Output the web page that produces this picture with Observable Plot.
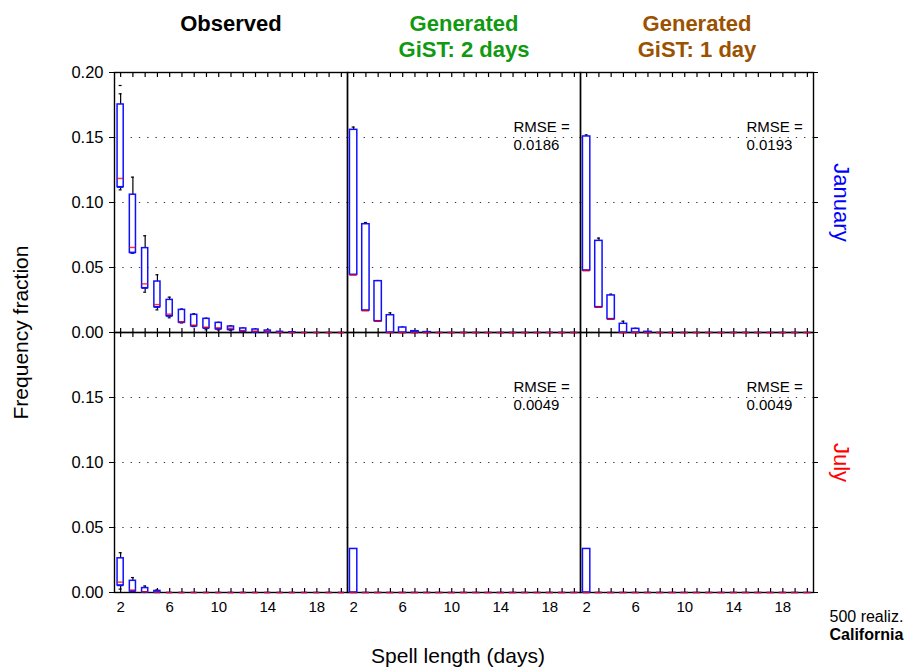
<!DOCTYPE html>
<html>
<head>
<meta charset="utf-8">
<script src="https://cdn.jsdelivr.net/npm/d3@7"></script>
<script src="https://cdn.jsdelivr.net/npm/@observablehq/plot@0.6"></script>
<style>
  body { margin: 0; background: #fff; }
  #chart svg { display: block; }
</style>
</head>
<body>
<div id="chart"></div>
<script>
// ---------- data ----------
const spells = [2,3,4,5,6,7,8,9,10,11,12,13,14,15,16,17,18,19,20];
const columns = ["Observed", "Generated\nGiST: 2 days", "Generated\nGiST: 1 day"];
const columnColors = ["#000000", "#119911", "#9a5200"];
const rows = ["January", "July"];
const rowColors = ["#0000ff", "#ff0000"];
const xTicks = [2, 6, 10, 14, 18];
const yTicks = [0, 0.05, 0.10, 0.15, 0.20];

// Observed, January
const obsJanQ1  = [0.1118,0.0613,0.0341,0.0195,0.0126,0.0077,0.0049,0.0033,0.0026,0.0021,0.0008,0.0003,0.0002,0,0,0,0,0,0];
const obsJanMed = [0.1185,0.0654,0.0374,0.0215,0.0141,0.0082,0.0056,0.0041,0.0036,0.0033,0.0015,0.0010,0.0005,0.0002,0,0,0,0,0];
const obsJanQ3  = [0.1754,0.1060,0.0649,0.0392,0.0251,0.0174,0.0136,0.0105,0.0074,0.0046,0.0031,0.0023,0.0015,0.0005,0.0002,0,0,0,0];
const obsJanLo  = [0.1097,0.0610,0.0310,0.0174,0.0113,0.0074,0.0045,0.0021,0.0020,0.0018,0.0005,0.0002,0.0001,0,0,0,0,0,0];
const obsJanHi  = [0.1836,0.1195,0.0744,0.0444,0.0272,0.0180,0.0144,0.0110,0.0078,0.0051,0.0034,0.0025,0.0017,0.0007,0.0003,0,0,0,0];
const obsJanOutSpell = [2];
const obsJanOutValue = [0.190];

// Generated GiST 2 days, January
const gen2JanQ1 = [0.0444,0.0169,0.0087,0,0,0,0,0,0,0,0,0,0,0,0,0,0,0,0];
const gen2JanQ3 = [0.1559,0.0833,0.0395,0.0133,0.0038,0.0010,0.0003,0,0,0,0,0,0,0,0,0,0,0,0];
const gen2JanHi = [0.1580,0.0846,0.0400,0.0151,0.0042,0.0012,0.0004,0,0,0,0,0,0,0,0,0,0,0,0];

// Generated GiST 1 day, January
const gen1JanQ1 = [0.0477,0.0195,0.0103,0,0,0,0,0,0,0,0,0,0,0,0,0,0,0,0];
const gen1JanQ3 = [0.1508,0.0705,0.0285,0.0067,0.0028,0.0005,0,0,0,0,0,0,0,0,0,0,0,0,0];
const gen1JanHi = [0.1520,0.0726,0.0295,0.0087,0.0032,0.0007,0,0,0,0,0,0,0,0,0,0,0,0,0];

// Observed, July
const obsJulQ1  = [0.0054,0.0008,0.0002,0,0,0,0,0,0,0,0,0,0,0,0,0,0,0,0];
const obsJulMed = [0.0080,0.0019,0.0006,0.0002,0,0,0,0,0,0,0,0,0,0,0,0,0,0,0];
const obsJulQ3  = [0.0263,0.0090,0.0034,0.0012,0,0,0,0,0,0,0,0,0,0,0,0,0,0,0];
const obsJulLo  = [0.0026,0.0002,0,0,0,0,0,0,0,0,0,0,0,0,0,0,0,0,0];
const obsJulHi  = [0.0306,0.0115,0.0050,0.0020,0,0,0,0,0,0,0,0,0,0,0,0,0,0,0];

// Generated, July
const gen2JulQ1 = [0,0,0,0,0,0,0,0,0,0,0,0,0,0,0,0,0,0,0];
const gen2JulQ3 = [0.0335,0,0,0,0,0,0,0,0,0,0,0,0,0,0,0,0,0,0];
const gen2JulHi = [0.0337,0,0,0,0,0,0,0,0,0,0,0,0,0,0,0,0,0,0];
const gen1JulQ1 = [0,0,0,0,0,0,0,0,0,0,0,0,0,0,0,0,0,0,0];
const gen1JulQ3 = [0.0335,0,0,0,0,0,0,0,0,0,0,0,0,0,0,0,0,0,0];
const gen1JulHi = [0.0337,0,0,0,0,0,0,0,0,0,0,0,0,0,0,0,0,0,0];

const rmseJan = ["0.0186", "0.0193"];
const rmseJul = ["0.0049", "0.0049"];

// ---------- table ----------
function panel(col, row, q1, med, q3, lo, hi) {
  return spells.map((s, i) => ({col, row, spell: s, q1: q1[i], med: med[i], q3: q3[i], lo: lo[i], hi: hi[i]}));
}
const table = [
  ...panel(columns[0], rows[0], obsJanQ1, obsJanMed, obsJanQ3, obsJanLo, obsJanHi),
  ...panel(columns[1], rows[0], gen2JanQ1, gen2JanQ1, gen2JanQ3, gen2JanQ1, gen2JanHi),
  ...panel(columns[2], rows[0], gen1JanQ1, gen1JanQ1, gen1JanQ3, gen1JanQ1, gen1JanHi),
  ...panel(columns[0], rows[1], obsJulQ1, obsJulMed, obsJulQ3, obsJulLo, obsJulHi),
  ...panel(columns[1], rows[1], gen2JulQ1, gen2JulQ1, gen2JulQ3, gen2JulQ1, gen2JulHi),
  ...panel(columns[2], rows[1], gen1JulQ1, gen1JulQ1, gen1JulQ3, gen1JulQ1, gen1JulHi)
];
const outliers = obsJanOutSpell.map((s, i) => ({col: columns[0], row: rows[0], spell: s, value: obsJanOutValue[i]}));
const rmse = [
  ...rmseJan.map((v, i) => ({col: columns[i + 1], row: rows[0], v})),
  ...rmseJul.map((v, i) => ({col: columns[i + 1], row: rows[1], v}))
];

const half = d => d.col === columns[0] ? 0.25 : 0.3;
const capHalf = 0.12;
const fmt = d3.format(".2f");
const font = "'Liberation Sans', Arial, Helvetica, sans-serif";

const chart = Plot.plot({
  width: 914,
  height: 672,
  marginLeft: 113,
  marginRight: 100,
  marginTop: 72,
  marginBottom: 80,
  style: {fontFamily: font, fontSize: "15px", background: "#fff", color: "#000"},
  x: {domain: [1.5, 20.5]},
  y: {domain: [0, 0.2]},
  fx: {domain: columns, axis: null, padding: 0},
  fy: {domain: rows, axis: null, padding: 0},
  color: {type: "identity"},
  marks: [
    Plot.ruleY([0.05, 0.10, 0.15], {stroke: "#333", strokeWidth: 1.2, strokeDasharray: "1.3,7"}),
    Plot.frame({stroke: "#000", strokeWidth: 1.4}),
    // minor inward ticks along top and bottom of every panel
    Plot.axisX(spells, {anchor: "top", tickSize: 4, dy: 4, tickFormat: () => "", label: null, facetAnchor: null, strokeWidth: 1.2}),
    Plot.axisX(spells, {anchor: "bottom", tickSize: 4, dy: -4, tickFormat: () => "", label: null, facetAnchor: null, strokeWidth: 1.2}),
    // labelled x axis (bottom row)
    Plot.axisX(xTicks, {tickSize: 0, tickPadding: 9, label: null, fontSize: 15}),
    // y axis
    Plot.axisY(yTicks, {tickSize: 5, tickPadding: 6, label: null, fontSize: 16.5,
      tickFormat: d => d === 0.2 ? "" : fmt(d)}),
    Plot.axisY(yTicks, {anchor: "right", tickSize: 4, label: null, tickFormat: () => ""}),
    Plot.text([yTicks[4]], {y: d => d, fx: () => columns[0], fy: () => rows[0], text: d => fmt(d),
      frameAnchor: "left", textAnchor: "end", dx: -11, fontSize: 16.5}),
    // whiskers
    Plot.ruleX(table, {fx: "col", fy: "row", x: "spell", y1: "q3", y2: "hi", stroke: "#000", strokeWidth: 1.2}),
    Plot.ruleX(table, {fx: "col", fy: "row", x: "spell", y1: "lo", y2: "q1", stroke: "#000", strokeWidth: 1.2}),
    Plot.ruleY(table.filter(d => d.hi > d.q3), {fx: "col", fy: "row", y: "hi", x1: d => d.spell - capHalf, x2: d => d.spell + capHalf, stroke: "#000", strokeWidth: 1.2}),
    Plot.ruleY(table.filter(d => d.lo < d.q1), {fx: "col", fy: "row", y: "lo", x1: d => d.spell - capHalf, x2: d => d.spell + capHalf, stroke: "#000", strokeWidth: 1.2}),
    Plot.ruleY(outliers, {fx: "col", fy: "row", y: "value", x1: d => d.spell - capHalf, x2: d => d.spell + capHalf, stroke: "#000", strokeWidth: 1.2}),
    // boxes
    Plot.rect(table, {fx: "col", fy: "row", x1: d => d.spell - half(d), x2: d => d.spell + half(d),
      y1: "q1", y2: "q3", fill: "#fff", stroke: "#1010ff", strokeWidth: 1.5}),
    Plot.ruleY(table, {fx: "col", fy: "row", y: "q1", x1: d => d.spell - half(d), x2: d => d.spell + half(d), stroke: "#1010ff", strokeWidth: 1.5}),
    // medians
    Plot.ruleY(table, {fx: "col", fy: "row", y: "med", x1: d => d.spell - half(d), x2: d => d.spell + half(d), stroke: "#ff0000", strokeWidth: 1.4, strokeOpacity: 0.8}),
    // RMSE labels
    Plot.text(rmse, {fx: "col", fy: "row", text: d => "RMSE =\n" + d.v, frameAnchor: "top-right",
      textAnchor: "start", lineAnchor: "top", dx: -67, dy: 47, fontSize: 15, lineHeight: 1.2}),
    // column headers
    Plot.text(columns, {fx: d => d, fy: () => rows[0], text: d => d, fill: d => columnColors[columns.indexOf(d)],
      frameAnchor: "top", lineAnchor: "top", dy: -60, fontSize: 22, fontWeight: "bold", lineHeight: 1.18}),
    // row labels
    Plot.text(rows, {fy: d => d, fx: () => columns[2], text: d => d, fill: d => rowColors[rows.indexOf(d)],
      frameAnchor: "right", textAnchor: "middle", dx: 28, rotate: 90, fontSize: 22}),
    // axis titles
    Plot.text(["Frequency fraction"], {fx: () => columns[0], fy: () => rows[0], text: d => d,
      frameAnchor: "bottom-left", textAnchor: "middle", dx: -87, rotate: -90, fontSize: 21}),
    Plot.text(["Spell length (days)"], {fx: () => columns[1], fy: () => rows[1], text: d => d,
      frameAnchor: "bottom", dx: -6, dy: 70, fontSize: 21}),
    // footnote
    Plot.text(["500 realiz."], {fx: () => columns[2], fy: () => rows[1], text: d => d,
      frameAnchor: "bottom-right", textAnchor: "start", dx: 16, dy: 29, fontSize: 16}),
    Plot.text(["California"], {fx: () => columns[2], fy: () => rows[1], text: d => d,
      frameAnchor: "bottom-right", textAnchor: "start", dx: 16, dy: 47, fontSize: 16, fontWeight: "bold"})
  ]
});
document.getElementById("chart").appendChild(chart);
</script>
</body>
</html>
